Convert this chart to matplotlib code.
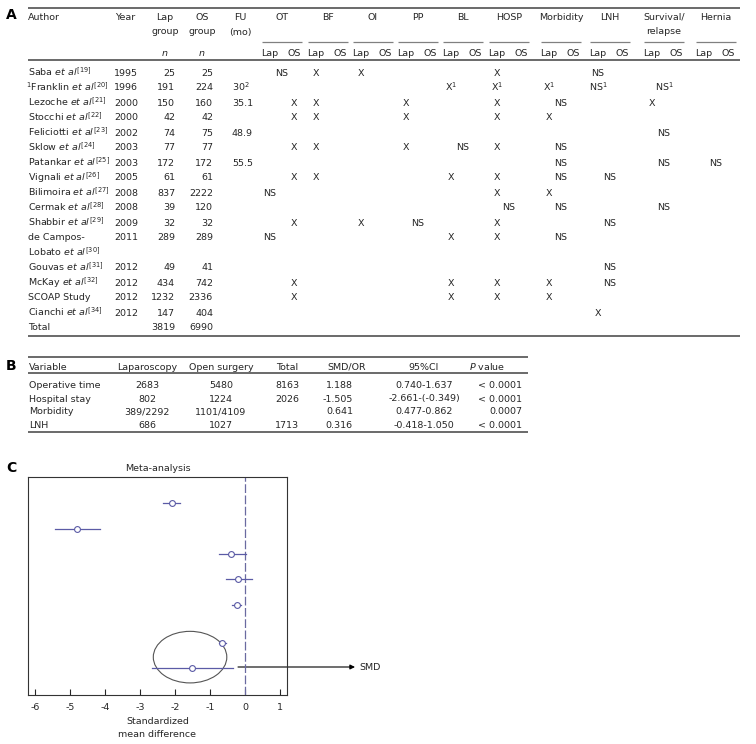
import matplotlib
matplotlib.use("Agg")
import matplotlib.pyplot as plt
from matplotlib.patches import Ellipse

plt.rcParams['font.family'] = ['DejaVu Sans']
plt.rcParams['mathtext.fontset'] = 'dejavusans'
plt.rcParams['axes.unicode_minus'] = False

# ---- panel A: study table ----
authors = ["Saba", "Franklin", "Lezoche", "Stocchi", "Feliciotti", "Sklow", "Patankar",
           "Vignali", "Bilimoira", "Cermak", "Shabbir", "de Campos-Lobato", "Gouvas",
           "McKay", "SCOAP Study", "Cianchi"]
refs = [19, 20, 21, 22, 23, 24, 25, 26, 27, 28, 29, 30, 31, 32, None, 34]
years = [1995, 1996, 2000, 2000, 2002, 2003, 2003, 2005, 2008, 2008, 2009, 2011, 2012, 2012, 2012, 2012]
lap_n = [25, 191, 150, 42, 74, 77, 172, 61, 837, 39, 32, 289, 49, 434, 1232, 147]
os_n = [25, 224, 160, 42, 75, 77, 172, 61, 2222, 120, 32, 289, 41, 742, 2336, 404]
fu_mo = ["", "30$^2$", "35.1", "", "48.9", "", "55.5", "", "", "", "", "", "", "", "", ""]
total_lap, total_os = 3819, 6990

groups = ["OT", "BF", "OI", "PP", "BL", "HOSP", "Morbidity", "LNH", "Survival/\nrelapse", "Hernia"]
# marks per study: group -> (text, column) ; column L = Lap, O = OS, C = spanning both
marks = [
    {"OT": ("NS", "C"), "BF": ("X", "L"), "OI": ("X", "L"), "HOSP": ("X", "L"), "LNH": ("NS", "L")},
    {"BL": ("X$^1$", "L"), "HOSP": ("X$^1$", "L"), "Morbidity": ("X$^1$", "L"),
     "LNH": ("NS$^1$", "L"), "Survival/\nrelapse": ("NS$^1$", "C")},
    {"OT": ("X", "O"), "BF": ("X", "L"), "PP": ("X", "L"), "HOSP": ("X", "L"),
     "Morbidity": ("NS", "C"), "Survival/\nrelapse": ("X", "L")},
    {"OT": ("X", "O"), "BF": ("X", "L"), "PP": ("X", "L"), "HOSP": ("X", "L"), "Morbidity": ("X", "L")},
    {"Survival/\nrelapse": ("NS", "C")},
    {"OT": ("X", "O"), "BF": ("X", "L"), "PP": ("X", "L"), "BL": ("NS", "C"), "HOSP": ("X", "L"),
     "Morbidity": ("NS", "C")},
    {"Morbidity": ("NS", "C"), "Survival/\nrelapse": ("NS", "C"), "Hernia": ("NS", "C")},
    {"OT": ("X", "O"), "BF": ("X", "L"), "BL": ("X", "L"), "HOSP": ("X", "L"),
     "Morbidity": ("NS", "C"), "LNH": ("NS", "C")},
    {"OT": ("NS", "L"), "HOSP": ("X", "L"), "Morbidity": ("X", "L")},
    {"HOSP": ("NS", "C"), "Morbidity": ("NS", "C"), "Survival/\nrelapse": ("NS", "C")},
    {"OT": ("X", "O"), "OI": ("X", "L"), "PP": ("NS", "C"), "HOSP": ("X", "L"), "LNH": ("NS", "C")},
    {"OT": ("NS", "L"), "BL": ("X", "L"), "HOSP": ("X", "L"), "Morbidity": ("NS", "C")},
    {"LNH": ("NS", "C")},
    {"OT": ("X", "O"), "BL": ("X", "L"), "HOSP": ("X", "L"), "Morbidity": ("X", "L"), "LNH": ("NS", "C")},
    {"OT": ("X", "O"), "BL": ("X", "L"), "HOSP": ("X", "L"), "Morbidity": ("X", "L")},
    {"LNH": ("X", "L")},
]

# ---- panel B: pooled results ----
variables = ["Operative time", "Hospital stay", "Morbidity", "LNH"]
lap_b = ["2683", "802", "389/2292", "686"]
open_b = ["5480", "1224", "1101/4109", "1027"]
total_b = ["8163", "2026", "", "1713"]
smd_or = ["1.188", "-1.505", "0.641", "0.316"]
ci_95 = ["0.740-1.637", "-2.661-(-0.349)", "0.477-0.862", "-0.418-1.050"]
p_vals = ["< 0.0001", "< 0.0001", "0.0007", "< 0.0001"]

# ---- panel C: forest plot ----
study_pos = [1.0, 2.04, 3.04, 4.04, 5.08, 6.6]
study_smd = [-2.09, -4.80, -0.40, -0.19, -0.24, -0.67]
study_lo = [-2.34, -5.43, -0.74, -0.54, -0.36, -0.74]
study_hi = [-1.86, -4.14, 0.02, 0.19, -0.12, -0.55]
pooled_pos = 7.6
pooled_smd, pooled_lo, pooled_hi = -1.505, -2.661, -0.349

FS = 6.8
TC = '#262626'
LC = '#5e5e5e'

fig = plt.figure(figsize=(7.56, 7.44), dpi=100)
bg = fig.add_axes([0, 0, 1, 1])
bg.set_xlim(0, 756)
bg.set_ylim(744, 0)
bg.axis('off')


def txt(x, y, s, ha='left', **kw):
    bg.text(x, y + 3.5, s, ha=ha, va='baseline', fontsize=FS, color=TC, **kw)


def hline(y, x0, x1, lw=1.3, color=LC):
    bg.plot([x0, x1], [y, y], color=color, lw=lw, solid_capstyle='butt')


# panel letters
for lab, y in [("A", 15), ("B", 366), ("C", 468)]:
    bg.text(11, y, lab, ha='center', va='center', fontsize=10, fontweight='bold', color='black')

# table A layout
centers = [282, 328, 373, 418, 463, 509, 561, 610, 664, 716]
off = 12
hline(8, 28, 740)
hline(60, 28, 740)
hline(336, 28, 740)

txt(28, 16, "Author")
txt(125, 16, "Year", ha='center')
txt(165, 16, "Lap", ha='center')
txt(165, 31, "group", ha='center')
txt(202, 16, "OS", ha='center')
txt(202, 31, "group", ha='center')
txt(240, 16, "FU", ha='center')
txt(240, 31, "(mo)", ha='center')
txt(165, 52, "n", ha='center', style='italic')
txt(202, 52, "n", ha='center', style='italic')
for g, c in zip(groups, centers):
    lines = g.split("\n")
    for k, part in enumerate(lines):
        txt(c, 16 + 15 * k, part, ha='center')
    hline(42, c - off - 8, c + off + 8, lw=0.9, color='#808080')
    txt(c - off, 52, "Lap", ha='center')
    txt(c + off, 52, "OS", ha='center')

row_idx = list(range(12)) + [13, 14, 15, 16]
for i, name in enumerate(authors):
    y = 72 + 15 * row_idx[i]
    ref = refs[i]
    if name == "de Campos-Lobato":
        txt(28, y, "de Campos-")
        txt(28, y + 15, r"Lobato $\it{et\ al}^{[%d]}$" % ref)
    elif ref is None:
        txt(28, y, name)
    elif name == "Franklin":
        txt(26, y, r"$^1$Franklin $\it{et\ al}^{[%d]}$" % ref)
    else:
        txt(28, y, r"%s $\it{et\ al}^{[%d]}$" % (name, ref))
    txt(126, y, str(years[i]), ha='center')
    txt(175, y, str(lap_n[i]), ha='right')
    txt(213, y, str(os_n[i]), ha='right')
    if fu_mo[i]:
        txt(232, y, fu_mo[i])
    for g, (s, col) in marks[i].items():
        c = centers[groups.index(g)]
        x = c - off if col == "L" else (c + off if col == "O" else c)
        txt(x, y, s, ha='center')

y_tot = 72 + 15 * 17
txt(28, y_tot, "Total")
txt(175, y_tot, str(total_lap), ha='right')
txt(213, y_tot, str(total_os), ha='right')

# table B layout
hline(357, 28, 528)
hline(373, 28, 528)
hline(432, 28, 528)
txt(29, 366, "Variable")
txt(147, 366, "Laparoscopy", ha='center')
txt(221, 366, "Open surgery", ha='center')
txt(287, 366, "Total", ha='center')
txt(347, 366, "SMD/OR", ha='center')
txt(424, 366, "95%CI", ha='center')
txt(487, 366, r"$\it{P}$ value", ha='center')
for j, v in enumerate(variables):
    y = 385 + 13 * j
    txt(29, y, v)
    txt(147, y, lap_b[j], ha='center')
    txt(221, y, open_b[j], ha='center')
    txt(287, y, total_b[j], ha='center')
    txt(353, y, smd_or[j], ha='right')
    txt(424, y, ci_95[j], ha='center')
    txt(522, y, p_vals[j], ha='right')

# arrow to "SMD" label
bg.annotate("", xy=(355, 667), xytext=(238, 667),
            arrowprops=dict(arrowstyle='-|>', color='black', lw=0.8, mutation_scale=7,
                            shrinkA=0, shrinkB=0))
txt(359, 667, "SMD")

# panel C forest plot
ax = fig.add_axes([28 / 756, 1 - 695 / 744, (287 - 28) / 756, (695 - 477) / 744])
ax.set_facecolor('none')
fc = '#5b5ba6'
ax.axvline(0, color='#6a6aa0', lw=0.9, ls=(0, (7, 2)))
for yp, m, lo, hi in zip(study_pos, study_smd, study_lo, study_hi):
    ax.plot([lo, hi], [yp, yp], color=fc, lw=0.9)
    ax.plot(m, yp, 'o', ms=4.2, mfc='white', mec=fc, mew=0.8)
ax.plot([pooled_lo, pooled_hi], [pooled_pos, pooled_pos], color=fc, lw=0.9)
ax.plot(pooled_smd, pooled_pos, 'o', ms=4.2, mfc='white', mec=fc, mew=0.8)
ax.add_patch(Ellipse((-1.57, 7.18), 2.1, 2.07, fill=False, ec='#555555', lw=0.8))

ax.set_xlim(-6.2, 1.2)
ax.set_ylim(8.7, -0.05)
ax.set_xticks(range(-6, 2))
ax.set_yticks([])
ax.tick_params(axis='x', direction='in', length=4, width=0.8, pad=6, labelsize=FS, colors=TC)
for sp in ax.spines.values():
    sp.set_linewidth(0.8)
    sp.set_color('#333333')
ax.set_title("Meta-analysis", fontsize=FS, color=TC, pad=4)
ax.set_xlabel("Standardized\nmean difference", fontsize=FS, color=TC, labelpad=3, linespacing=1.6)

fig.savefig("out.png", dpi=100)
